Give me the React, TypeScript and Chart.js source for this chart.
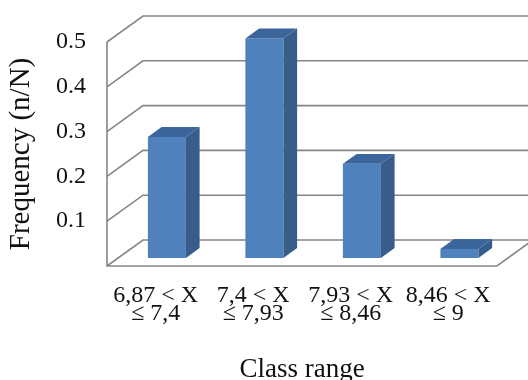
import { useEffect, useRef } from "react";
import { Chart, registerables } from "chart.js";

Chart.register(...registerables);

// Class ranges (two-line category labels) and their relative frequencies
const classRanges: string[][] = [
  ["6,87 < X", "≤ 7,4"],
  ["7,4 < X", "≤ 7,93"],
  ["7,93 < X", "≤ 8,46"],
  ["8,46 < X", "≤ 9"],
];
const frequencies: number[] = [0.27, 0.49, 0.21, 0.02];

const yMin = 0;
const yMax = 0.5;
const yStep = 0.1;

const xTitle = "Class range";
const yTitle = "Frequency (n/N)";

// Oblique projection of the box depth (full depth, in pixels)
const DEPTH_X = 36;
const DEPTH_Y = -26;
// Bars sit in the middle slice of the depth
const BAR_FRONT = 0.31;
const BAR_BACK = 0.69;

const FONT = "'Liberation Serif', 'Times New Roman', serif";
const TEXT = "#111111";
const GRID = "#868686";
const FACE_FRONT = "#4f81bd";
const FACE_SIDE = "#385d8a";
const FACE_TOP = "#3b659b";

const box3d = {
  id: "box3d",
  beforeDatasetsDraw(chart: any) {
    const { ctx, chartArea: a, scales } = chart;
    const y = scales.y;
    const steps = Math.round((yMax - yMin) / yStep);
    ctx.save();
    ctx.strokeStyle = GRID;
    ctx.lineWidth = 1.6;
    ctx.beginPath();
    // gridlines: across the left wall, then along the back wall
    for (let i = 0; i <= steps; i++) {
      const py = y.getPixelForValue(yMin + i * yStep);
      ctx.moveTo(a.left, py);
      ctx.lineTo(a.left + DEPTH_X, py + DEPTH_Y);
      ctx.lineTo(a.right + DEPTH_X, py + DEPTH_Y);
    }
    const y0 = y.getPixelForValue(yMin);
    const yTop = y.getPixelForValue(yMax);
    // front edge of the left wall and the floor
    ctx.moveTo(a.left, yTop);
    ctx.lineTo(a.left, y0);
    ctx.lineTo(a.right, y0);
    ctx.lineTo(a.right + DEPTH_X, y0 + DEPTH_Y);
    ctx.stroke();
    ctx.restore();
  },
  beforeDatasetDraw(chart: any) {
    // front faces are drawn by the bar controller, pushed back into the box
    chart.ctx.save();
    chart.ctx.translate(BAR_FRONT * DEPTH_X, BAR_FRONT * DEPTH_Y);
  },
  afterDatasetDraw(chart: any) {
    chart.ctx.restore();
  },
  afterDatasetsDraw(chart: any) {
    const { ctx } = chart;
    const sx = BAR_FRONT * DEPTH_X;
    const sy = BAR_FRONT * DEPTH_Y;
    const dx = (BAR_BACK - BAR_FRONT) * DEPTH_X;
    const dy = (BAR_BACK - BAR_FRONT) * DEPTH_Y;
    const meta = chart.getDatasetMeta(0);
    ctx.save();
    meta.data.forEach((el: any) => {
      const { x, y, base, width } = el.getProps(["x", "y", "base", "width"], true);
      const left = x - width / 2 + sx;
      const right = x + width / 2 + sx;
      const top = y + sy;
      const bottom = base + sy;
      // side face
      ctx.fillStyle = FACE_SIDE;
      ctx.beginPath();
      ctx.moveTo(right, top);
      ctx.lineTo(right + dx, top + dy);
      ctx.lineTo(right + dx, bottom + dy);
      ctx.lineTo(right, bottom);
      ctx.closePath();
      ctx.fill();
      // top face
      ctx.fillStyle = FACE_TOP;
      ctx.beginPath();
      ctx.moveTo(left, top);
      ctx.lineTo(left + dx, top + dy);
      ctx.lineTo(right + dx, top + dy);
      ctx.lineTo(right, top);
      ctx.closePath();
      ctx.fill();
    });
    ctx.restore();
  },
};

export default function App() {
  const canvasRef = useRef<HTMLCanvasElement | null>(null);

  useEffect(() => {
    document.body.style.margin = "0";
    const canvas = canvasRef.current;
    if (!canvas) return;
    const chart = new Chart(canvas, {
      type: "bar",
      data: {
        labels: classRanges,
        datasets: [
          {
            data: frequencies,
            backgroundColor: FACE_FRONT,
            borderWidth: 0,
            barPercentage: 0.39,
            categoryPercentage: 1,
            clip: false as any,
          },
        ],
      },
      options: {
        animation: false,
        responsive: false,
        devicePixelRatio: 1,
        layout: { padding: { left: 0, top: 42, right: 31, bottom: 0 } },
        plugins: {
          legend: { display: false },
          tooltip: { enabled: false },
        },
        scales: {
          x: {
            grid: { display: false },
            border: { display: false },
            ticks: {
              color: TEXT,
              font: { family: FONT, size: 24, lineHeight: 0.78 },
              padding: 12,
              maxRotation: 0,
              autoSkip: false,
            },
            title: {
              display: true,
              text: xTitle,
              color: TEXT,
              font: { family: FONT, size: 27, lineHeight: 1 },
              padding: { top: 0, bottom: -3 },
            },
            afterFit: (s: any) => {
              s.height = 114;
            },
          },
          y: {
            min: yMin,
            max: yMax,
            grid: { display: false },
            border: { display: false },
            ticks: {
              stepSize: yStep,
              color: TEXT,
              font: { family: FONT, size: 24 },
              padding: 13,
              callback: (v: any) => (Number(v) === 0 ? "" : Number(v).toFixed(1)),
            },
            title: {
              display: true,
              text: yTitle,
              color: TEXT,
              font: { family: FONT, size: 29, lineHeight: 1 },
              padding: { top: 7, bottom: 0 },
            },
            afterFit: (s: any) => {
              s.width = 107;
            },
          },
        },
      },
      plugins: [box3d],
    });
    return () => chart.destroy();
  }, []);

  return (
    <div style={{ width: 528, height: 380 }}>
      <canvas ref={canvasRef} width={528} height={380} />
    </div>
  );
}
